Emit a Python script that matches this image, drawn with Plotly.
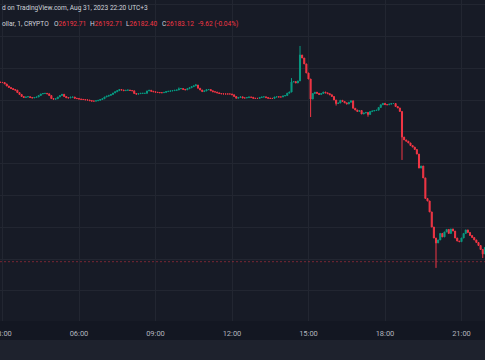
import plotly.graph_objects as go
from datetime import datetime, timedelta

# ---- data: 5-minute BTC/USD candles (Aug 31, 2023) ----
START_TIME = "2023-08-31 02:55"
BAR_MINUTES = 5
FIRST_OPEN = 27312
CLOSES = [
    27311, 27310, 27301, 27288, 27279, 27272, 27266, 27262, 27247, 27235,
    27222, 27216, 27219, 27221, 27216, 27213, 27216, 27219, 27228, 27238,
    27241, 27242, 27239, 27228, 27209, 27205, 27208, 27219, 27228, 27236,
    27222, 27214, 27213, 27218, 27219, 27211, 27209, 27206, 27204, 27203,
    27201, 27200, 27196, 27193, 27193, 27195, 27198, 27203, 27208, 27219,
    27224, 27229, 27235, 27244, 27252, 27259, 27266, 27263, 27259, 27261,
    27263, 27260, 27258, 27241, 27237, 27240, 27242, 27242, 27242, 27257,
    27261, 27255, 27252, 27249, 27247, 27246, 27246, 27248, 27253, 27255,
    27257, 27259, 27261, 27263, 27270, 27272, 27267, 27264, 27271, 27277,
    27284, 27289, 27294, 27274, 27263, 27253, 27257, 27265, 27266, 27258,
    27252, 27250, 27245, 27241, 27239, 27238, 27238, 27238, 27238, 27233,
    27222, 27211, 27216, 27220, 27213, 27213, 27215, 27219, 27217, 27211,
    27210, 27210, 27216, 27219, 27220, 27215, 27211, 27210, 27210, 27219,
    27220, 27219, 27219, 27225, 27228, 27243, 27250, 27313, 27316, 27307,
    27320, 27483, 27464, 27427, 27370, 27332, 27206, 27241, 27249, 27242,
    27235, 27241, 27250, 27245, 27240, 27233, 27222, 27200, 27178, 27181,
    27198, 27191, 27182, 27175, 27186, 27195, 27148, 27137, 27128, 27134,
    27112, 27118, 27122, 27109, 27127, 27131, 27134, 27136, 27153, 27170,
    27179, 27171, 27170, 27174, 27178, 27178, 27159, 27150, 27128, 26967,
    26949, 26941, 26930, 26914, 26904, 26889, 26860, 26772, 26785, 26710,
    26581, 26565, 26496, 26401, 26332, 26301, 26320, 26361, 26339, 26370,
    26386, 26361, 26389, 26376, 26332, 26313, 26309, 26332, 26361, 26383,
    26367, 26348, 26335, 26320, 26304, 26285, 26260, 26232, 26272,
]
WICK_HIGH_IDX = [84, 92, 137, 141]
WICK_HIGH_VAL = [27279, 27301, 27338, 27540]
WICK_LOW_IDX = [146, 158, 173, 189, 205, 227]
WICK_LOW_VAL = [27093, 27165, 27095, 26823, 26144, 26206]

LAST_PRICE = 26183.12
TIME_TICKS = ["03:00", "06:00", "09:00", "12:00", "15:00", "18:00", "21:00"]

HEADER = "d on TradingView.com, Aug 31, 2023 22:20 UTC+3"
SYMBOL = "ollar, 1, CRYPTO"
OHLC_LABELS = ["O", "H", "L", "C"]
OHLC_VALUES = ["26192.71", "26192.71", "26182.40", "26183.12"]
CHANGE = "-9.62 (-0.04%)"

# ---- build candles ----
t0 = datetime.strptime(START_TIME, "%Y-%m-%d %H:%M")
times = [t0 + timedelta(minutes=BAR_MINUTES * k) for k in range(len(CLOSES))]
opens = [FIRST_OPEN] + CLOSES[:-1]
highs = [max(o, c) for o, c in zip(opens, CLOSES)]
lows = [min(o, c) for o, c in zip(opens, CLOSES)]
for i, v in zip(WICK_HIGH_IDX, WICK_HIGH_VAL):
    highs[i] = max(highs[i], v)
for i, v in zip(WICK_LOW_IDX, WICK_LOW_VAL):
    lows[i] = min(lows[i], v)

UP = "#089981"
DOWN = "#f23645"
W, H = 485, 360
PLOT_H = 321

fig = go.Figure(go.Candlestick(
    x=times, open=opens, high=highs, low=lows, close=CLOSES,
    increasing=dict(line=dict(color=UP, width=1), fillcolor=UP),
    decreasing=dict(line=dict(color=DOWN, width=1), fillcolor=DOWN),
    whiskerwidth=0, hoverinfo="skip",
))

tickvals = [datetime(2023, 8, 31, int(s[:2]), int(s[3:])) for s in TIME_TICKS]

fig.update_layout(
    width=W, height=H,
    margin=dict(l=0, r=0, t=0, b=H - PLOT_H, autoexpand=False),
    paper_bgcolor="#131722",
    plot_bgcolor="#171b26",
    showlegend=False,
    xaxis=dict(
        type="date",
        range=["2023-08-31 02:54:07", "2023-08-31 21:55:18"],
        rangeslider=dict(visible=False),
        tickvals=tickvals, ticktext=TIME_TICKS,
        showgrid=True, gridcolor="#222631", gridwidth=1,
        zeroline=False, showline=False, ticks="",
        automargin=False,
        ticklabeloverflow="allow", ticklabelstandoff=6,
        tickfont=dict(family="Roboto", size=7.5, color="#b2b5be"),
        fixedrange=True,
    ),
    yaxis=dict(
        range=[25810.1, 27829.0],
        dtick=200, tick0=0,
        showticklabels=False,
        showgrid=True, gridcolor="#222631", gridwidth=1,
        zeroline=False, showline=False, ticks="",
        automargin=False,
        fixedrange=True,
    ),
    shapes=[
        dict(type="line", xref="paper", yref="y", x0=0, x1=1,
             y0=LAST_PRICE, y1=LAST_PRICE,
             line=dict(color="rgba(242,54,69,0.45)", width=1, dash="2px,2px")),
        dict(type="rect", xref="paper", yref="paper", x0=0, x1=1,
             y0=-(H - PLOT_H) / PLOT_H, y1=-19 / PLOT_H, fillcolor="#1e222d",
             line=dict(width=0), layer="below"),
    ],
)

RED = "#f23645"
TXT = "#d1d4dc"
FONT = dict(family="Roboto", size=6.6, color=TXT)


def add_text(text, px, py):
    fig.add_annotation(text=text, xref="paper", yref="paper",
                       x=px / W, y=1 - py / PLOT_H,
                       xanchor="left", yanchor="middle", showarrow=False,
                       font=FONT)


add_text(HEADER, 0, 8)
add_text(SYMBOL, 0, 24)
for lab, val, px in zip(OHLC_LABELS, OHLC_VALUES, [52, 88, 124, 160]):
    add_text("%s<span style='color:%s'>%s</span>" % (lab, RED, val), px, 24)
add_text("<span style='color:%s'>%s</span>" % (RED, CHANGE), 196, 24)

fig.write_html("out.html",
               config={"displayModeBar": False, "staticPlot": True},
               post_script="document.body.style.margin='0';"
                           "document.body.style.overflow='hidden';")
